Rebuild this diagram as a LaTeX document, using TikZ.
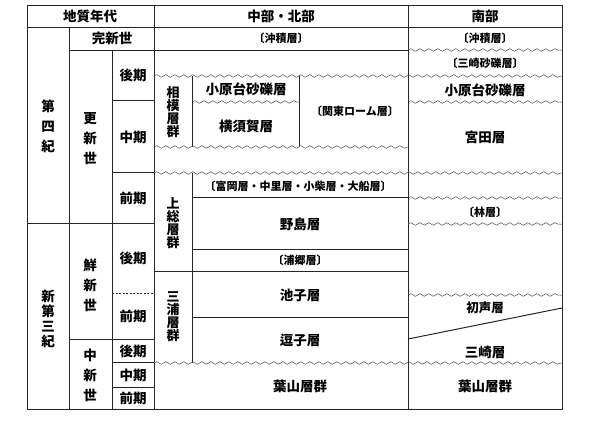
\documentclass[tikz,border=0pt]{standalone}
\usepackage{fontspec}
\newfontfamily\jp{Noto Sans CJK JP}
\usetikzlibrary{decorations.pathmorphing}
\newcommand\lbk{\makebox[0.5em][r]{〔}}
\newcommand\rbk{\makebox[0.5em][l]{〕}}
\begin{document}
\begin{tikzpicture}[x=1pt,y=-1pt,
  line/.style={draw=black!85, line width=0.8pt},
  wavy/.style={draw=black!70, line width=0.5pt, decorate, decoration={snake, segment length=9pt, amplitude=1.3pt}},
  big/.style={font=\jp\bfseries\fontsize{13.5}{14}\selectfont, inner sep=0pt},
  small/.style={font=\jp\bfseries\fontsize{11}{12}\selectfont, inner sep=0pt},
  vnar/.style={font=\jp\bfseries\fontsize{13}{13}\selectfont, align=center, inner sep=0pt},
  vwide/.style={font=\jp\bfseries\fontsize{13.5}{20}\selectfont, align=center, inner sep=0pt},
  vmid/.style={font=\jp\bfseries\fontsize{13.5}{15}\selectfont, align=center, inner sep=0pt}
]
\useasboundingbox (0,0) rectangle (600,426);
% frame
\draw[line, line width=1pt] (27,5) rectangle (562,409);
\draw[line] (27,27) -- (562,27);
\draw[line] (69,27) -- (69,409);
\draw[line] (112,50) -- (112,409);
\draw[line] (154,5) -- (154,409);
\draw[line] (408,5) -- (408,409);
\draw[line] (69,50) -- (408,50);
\draw[line] (112,100) -- (154,100);
\draw[line] (112,172) -- (154,172);
\draw[line] (27,223) -- (154,223);
\draw[line, dashed, dash pattern=on 2pt off 1.5pt] (112,293) -- (154,293);
\draw[line] (69,339) -- (154,339);
\draw[line] (112,362) -- (154,362);
\draw[line] (112,387) -- (154,387);
% central column
\draw[wavy] (154,76) -- (562,76);
\draw[line] (192,76) -- (192,147);
\draw[line] (299,76) -- (299,147);
\draw[wavy] (192,102) -- (299,102);
\draw[wavy] (154,147) -- (408,147);
\draw[wavy] (154,173) -- (562,173);
\draw[line] (192,173) -- (192,363);
\draw[line] (192,197) -- (408,197);
\draw[line] (192,249) -- (408,249);
\draw[line] (154,271) -- (408,271);
\draw[line] (192,317) -- (408,317);
\draw[wavy] (154,363) -- (562,363);
% south column
\draw[wavy] (408,50) -- (562,50);
\draw[wavy] (408,102) -- (562,102);
\draw[wavy] (408,198) -- (562,198);
\draw[wavy] (408,224) -- (562,224);
\draw[wavy] (408,295) -- (562,295);
\draw[line, line width=1pt] (408,339) -- (562,308);
% header
\node[big] (h1) at (90,16) {地質年代};
\node[big] (h2) at (281,16) {中部・北部};
\node[big] (h3) at (485,16) {南部};
% left columns
\node[big] (kan) at (112,38) {完新世};
\node[vwide] (dai4) at (48,126) {第\\四\\紀};
\node[vwide] (kou) at (90,139) {更\\新\\世};
\node[big] (p1) at (133,75) {後期};
\node[big] (p2) at (133,137) {中期};
\node[big] (p3) at (133,198) {前期};
\node[vmid] (shin3) at (48,319) {新\\第\\三\\紀};
\node[vwide] (sen) at (90,285) {鮮\\新\\世};
\node[big] (p4) at (133,258) {後期};
\node[big] (p5) at (133,316) {前期};
\node[vwide] (chu) at (90,375) {中\\新\\世};
\node[big] (p6) at (133,351) {後期};
\node[big] (p7) at (133,375) {中期};
\node[big] (p8) at (133,398) {前期};
% central texts
\node[small] (c1) at (281,38) {\lbk 沖積層\rbk};
\node[vnar] (sag) at (173,112) {相\\模\\層\\群};
\node[big] (c2) at (246,89) {小原台砂礫層};
\node[big] (c3) at (246,126) {横須賀層};
\node[small] (c4) at (355,111) {\lbk 関東ローム層\rbk};
\node[small] (c5) at (298,186) {\lbk 富岡層・中里層・小柴層・大船層\rbk};
\node[vnar] (kaz) at (173,223) {上\\総\\層\\群};
\node[big] (c6) at (300,224) {野島層};
\node[small] (c7) at (300,260) {\lbk 浦郷層\rbk};
\node[vnar] (miu) at (173,317) {三\\浦\\層\\群};
\node[big] (c8) at (300,295) {池子層};
\node[big] (c9) at (300,340) {逗子層};
\node[big] (c10) at (300,386) {葉山層群};
% south texts
\node[small] (s1) at (485,38) {\lbk 沖積層\rbk};
\node[small] (s2) at (485,63) {\lbk 三崎砂礫層\rbk};
\node[big] (s3) at (485,90) {小原台砂礫層};
\node[big] (s4) at (485,137) {宮田層};
\node[small] (s5) at (485,212) {\lbk 林層\rbk};
\node[small, font=\jp\bfseries\fontsize{12.5}{13}\selectfont] (s6) at (485,308) {初声層};
\node[big] (s7) at (485,352) {三崎層};
\node[big] (s8) at (485,386) {葉山層群};
\end{tikzpicture}
\end{document}
